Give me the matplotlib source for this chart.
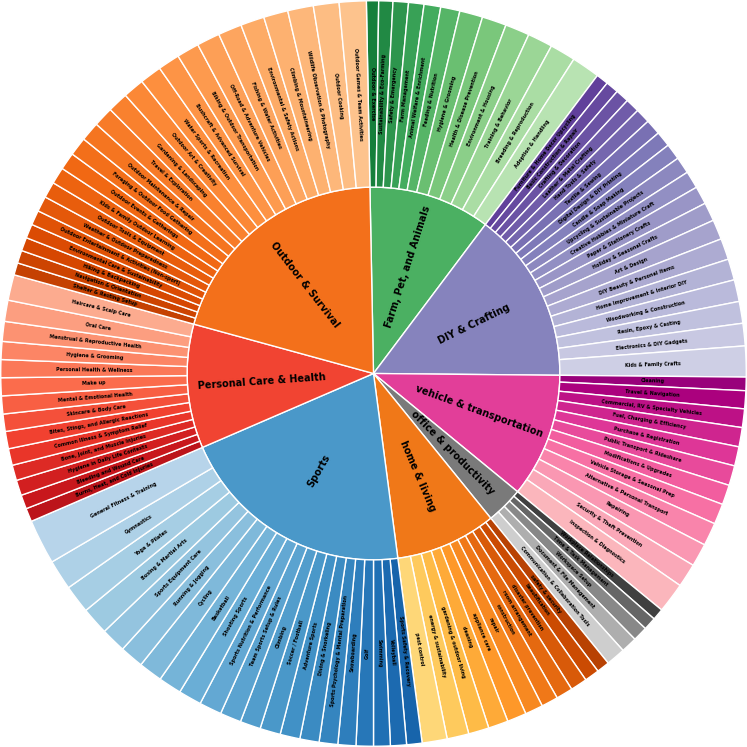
import matplotlib
matplotlib.use('Agg')
import matplotlib.pyplot as plt
import numpy as np

# categories (clockwise from top)
categories = ['Farm, Pet, and Animals', 'DIY & Crafting', 'vehicle & transportation',
              'office & productivity', 'home & living', 'Sports',
              'Personal Care & Health', 'Outdoor & Survival']
cmaps = ['Greens', 'Purples', 'RdPu', 'Greys', 'YlOrBr', 'Blues', 'Reds', 'Oranges']

farm_labels = ['Outdoor & Exercise', 'Sustainability & Eco-Farming', 'Safety & Emergency',
               'Farm Management', 'Animal Welfare & Enrichment', 'Feeding & Nutrition',
               'Hygiene & Grooming', 'Health & Disease Prevention', 'Environment & Housing',
               'Training & Behavior', 'Breeding & Reproduction', 'Adoption & Handling']
farm_vals = [19, 22, 24, 24, 26, 30, 36, 38, 38, 39, 40, 44]

diy_labels = ['Furniture & Home Decor Upcycling', 'Basic Construction & Repair',
              'Crafting & Decoration', 'Leather & Metal Crafting', 'Hand Tools & Safety',
              'Textile & Sewing', 'Digital Design & DIY Printing', 'Candle & Soap Making',
              'Upcycling & Sustainable Projects', 'Creative Hobbies & Miniature Craft',
              'Paper & Stationery Crafts', 'Holiday & Seasonal Crafts', 'Art & Design',
              'DIY Beauty & Personal Items', 'Home Improvement & Interior DIY',
              'Woodworking & Construction', 'Resin, Epoxy & Casting',
              'Electronics & DIY Gadgets', 'Kids & Family Crafts']
diy_vals = [19, 20, 21, 22, 23, 24, 24, 25, 26, 27, 28, 29, 31, 33, 33, 34, 34, 35, 48]

vehicle_labels = ['Cleaning', 'Travel & Navigation', 'Commercial, RV & Specialty Vehicles',
                  'Fuel, Charging & Efficiency', 'Purchase & Registration',
                  'Public Transport & Rideshare', 'Modifications & Upgrades',
                  'Vehicle Storage & Seasonal Prep', 'Alternative & Personal Transport',
                  'Repairing', 'Security & Theft Prevention', 'Inspection & Diagnostics']
vehicle_vals = [21, 28, 29, 30, 30, 31, 31, 32, 36, 36, 37, 47]

office_labels = ['Workplace Relationships', 'Time & Task Management', 'Workspace Setup',
                 'Document & File Management', 'Communication & Collaboration Tools']
office_vals = [18, 20, 23, 25, 30]

home_labels = ['safety & security', 'beautification', 'disaster prevention',
               'room arrangement', 'construction', 'repair', 'appliance care', 'cleaning',
               'gardening & outdoor living', 'energy & sustainability', 'pest control']
home_vals = [20, 23, 26, 26, 26, 28, 30, 31, 32, 34, 39]

sports_labels = ['Sports Safety & Recovery', 'Volleyball', 'Swimming', 'Golf', 'Snowboarding',
                 'Sports Psychology & Mental Preparation', 'Diving & Snorkeling',
                 'Adventure Sports', 'Soccer / Football', 'Climbing',
                 'Team Sports Setup & Rules', 'Sports Nutrition & Performance',
                 'Shooting Sports', 'Basketball', 'Cycling', 'Running & Jogging',
                 'Sports Equipment Care', 'Boxing & Martial Arts', 'Yoga & Pilates',
                 'Gymnastics', 'General Fitness & Training']
sports_vals = [24, 25, 26, 27, 28, 29, 30, 31, 32, 32, 33, 35, 36, 36, 37, 37, 39, 43, 44, 47, 70]

personal_labels = ['Burns, Heat, and Cold Injuries', 'Bleeding and Wound Care',
                   'Hygiene in Daily Life Contexts', 'Bone, Joint, and Muscle Injuries',
                   'Common Illness & Symptom Relief', 'Bites, Stings, and Allergic Reactions',
                   'Skincare & Body Care', 'Mental & Emotional Health', 'Make up',
                   'Personal Health & Wellness', 'Hygiene & Grooming',
                   'Menstrual & Reproductive Health', 'Oral Care', 'Haircare & Scalp Care']
personal_vals = [21, 22, 24, 24, 26, 27, 27, 28, 28, 28, 28, 31, 33, 40]

outdoor_labels = ['Shelter & Resting Setup', 'Navigation & Orientation', 'Hiking & Backpacking',
                  'Environmental Care & Sustainability',
                  'Outdoor Entertainment & Activities (Non-sport)',
                  'Weather & Outdoor Preparedness', 'Outdoor Tools & Equipment',
                  'Kids & Family Outdoor Learning', 'Outdoor Events & Gatherings',
                  'Foraging & Outdoor Food Gathering', 'Outdoor Maintenance & Repair',
                  'Travel & Exploration', 'Gardening & Landscaping', 'Outdoor Art & Creativity',
                  'Water Sports & Recreation', 'Bushcraft & Advanced Survival',
                  'Biking & Outdoor Transportation', 'Off-Road & Adventure Vehicles',
                  'Fishing & Water Activities', 'Environmental & Safety Actions',
                  'Climbing & Mountaineering', 'Wildlife Observation & Photography',
                  'Outdoor Cooking', 'Outdoor Games & Team Activities']
outdoor_vals = [19, 20, 21, 22, 23, 24, 25, 26, 27, 29, 30, 31, 32, 33,
                34, 34, 35, 36, 37, 37, 38, 40, 40, 42]

sub_labels = [farm_labels, diy_labels, vehicle_labels, office_labels,
              home_labels, sports_labels, personal_labels, outdoor_labels]
sub_vals = [farm_vals, diy_vals, vehicle_vals, office_vals,
            home_vals, sports_vals, personal_vals, outdoor_vals]

inner_vals = [sum(v) for v in sub_vals]
inner_colors = [plt.get_cmap(c)(0.6) for c in cmaps]
outer_vals, outer_labels, outer_colors = [], [], []
for cm, labs, vals in zip(cmaps, sub_labels, sub_vals):
    cols = plt.get_cmap(cm)(np.linspace(0.8, 0.3, len(vals)))
    outer_vals += vals
    outer_labels += labs
    outer_colors += list(cols)


def radial_rot(theta):
    t = (theta + 180) % 360 - 180
    if t > 90:
        t -= 180
    elif t < -90:
        t += 180
    return t


fig = plt.figure(figsize=(7.47, 7.47), dpi=100)
ax = fig.add_axes([0, 0, 1, 1])

start = 91.1
w_in, _ = ax.pie(inner_vals, radius=0.5, colors=inner_colors, startangle=start,
                 counterclock=False, wedgeprops=dict(edgecolor='white', linewidth=1))
w_out, _ = ax.pie(outer_vals, radius=1.0, colors=outer_colors, startangle=start,
                  counterclock=False,
                  wedgeprops=dict(width=0.5, edgecolor='white', linewidth=1))

for w, lab in zip(w_in, categories):
    th = (w.theta1 + w.theta2) / 2
    r = 0.3
    ax.text(r * np.cos(np.radians(th)), r * np.sin(np.radians(th)), lab,
            rotation=radial_rot(th), rotation_mode='anchor', ha='center', va='center',
            fontsize=7, fontweight='bold')

for w, lab in zip(w_out, outer_labels):
    th = (w.theta1 + w.theta2) / 2
    r = 0.75
    ax.text(r * np.cos(np.radians(th)), r * np.sin(np.radians(th)), lab,
            rotation=radial_rot(th), rotation_mode='anchor', ha='center', va='center',
            fontsize=3.5, fontweight='bold')

ax.set_xlim(-1.002, 1.002)
ax.set_ylim(-1.002, 1.002)
ax.set_aspect('equal')
ax.axis('off')

plt.savefig('out.png', dpi=100)
